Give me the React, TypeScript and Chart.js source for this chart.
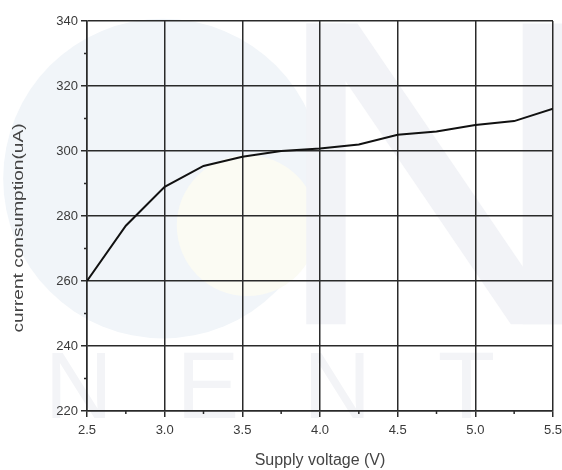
import React, { useEffect, useRef } from "react";
import { Chart, registerables } from "chart.js";

Chart.register(...registerables);

const voltages = [2.5, 2.75, 3.0, 3.25, 3.5, 3.75, 4.0, 4.25, 4.5, 4.75, 5.0, 5.25, 5.5];
const currents = [260, 277, 289, 295.4, 298.2, 300, 300.8, 302, 305, 306, 308, 309.2, 313];

const xTicks = [2.5, 3.0, 3.5, 4.0, 4.5, 5.0, 5.5];
const xMinorTicks = [2.75, 3.25, 3.75, 4.25, 4.75, 5.25];
const yTicks = [220, 240, 260, 280, 300, 320, 340];
const yMinorTicks = [230, 250, 270, 290, 310, 330];

const xTitle = "Supply voltage (V)";
const yTitle = "current consumption(uA)";
const watermarkLetters = ["N", "E", "N", "T"];

const FONT = "'Liberation Sans', Arial, sans-serif";
const AXIS = "#2a2a2a";

const watermarkPlugin = {
  id: "watermark",
  beforeDraw(chart: any) {
    const { ctx, width, height } = chart;
    ctx.save();
    ctx.fillStyle = "#ffffff";
    ctx.fillRect(0, 0, width, height);
    // faint round logo
    ctx.fillStyle = "#f1f5f9";
    ctx.beginPath();
    ctx.arc(width * 0.29, height * 0.38, height * 0.34, 0, Math.PI * 2);
    ctx.fill();
    ctx.fillStyle = "#fbfbf3";
    ctx.beginPath();
    ctx.arc(width * 0.44, height * 0.48, height * 0.15, 0, Math.PI * 2);
    ctx.fill();
    // faint big N
    ctx.fillStyle = "#f2f3f7";
    const l = width * 0.545, r = width * 0.93, t = height * 0.05, b = height * 0.69, sw = width * 0.07;
    ctx.fillRect(l, t, sw, b - t);
    ctx.fillRect(r, t, sw, b - t);
    ctx.beginPath();
    ctx.moveTo(l, t);
    ctx.lineTo(l + sw * 1.3, t);
    ctx.lineTo(r + sw, b);
    ctx.lineTo(r + sw - sw * 1.3, b);
    ctx.closePath();
    ctx.fill();
    // faint letters
    ctx.fillStyle = "#f3f4f7";
    ctx.font = `${Math.round(height * 0.2)}px ${FONT}`;
    ctx.textBaseline = "alphabetic";
    ctx.textAlign = "center";
    watermarkLetters.forEach((c, i) => {
      ctx.fillText(c, width * (0.14 + i * 0.23), height * 0.89);
    });
    ctx.restore();
  },
};

const minorTickPlugin = {
  id: "minorTicks",
  afterDraw(chart: any) {
    const { ctx, scales, chartArea } = chart;
    const xs = scales.x;
    const ys = scales.y;
    ctx.save();
    ctx.strokeStyle = AXIS;
    ctx.lineWidth = 1.5;
    ctx.beginPath();
    for (const v of xMinorTicks) {
      const px = xs.getPixelForValue(v);
      ctx.moveTo(px, ys.bottom);
      ctx.lineTo(px, ys.bottom + 3);
    }
    for (const v of yMinorTicks) {
      const py = ys.getPixelForValue(v);
      ctx.moveTo(xs.left, py);
      ctx.lineTo(xs.left - 3, py);
    }
    ctx.stroke();

    // y title, drawn tall and narrow like the reference
    const cy = (chartArea.top + chartArea.bottom) / 2 + 12;
    ctx.font = `15px ${FONT}`;
    ctx.fillStyle = "#444444";
    ctx.textAlign = "center";
    ctx.textBaseline = "middle";
    const w = ctx.measureText(yTitle).width;
    ctx.translate(19, cy);
    ctx.rotate(-Math.PI / 2);
    ctx.scale(209 / w, 1);
    ctx.fillText(yTitle, 0, 0);
    ctx.restore();
  },
};

export default function App() {
  const ref = useRef<HTMLCanvasElement | null>(null);

  useEffect(() => {
    if (!ref.current) return;
    const chart = new Chart(ref.current, {
      type: "line",
      data: {
        datasets: [
          {
            data: voltages.map((v, i) => ({ x: v, y: currents[i] })),
            borderColor: "#111111",
            borderWidth: 2,
            pointRadius: 0,
            tension: 0,
            fill: false,
          },
        ],
      },
      options: {
        animation: false,
        responsive: false,
        devicePixelRatio: 1,
        layout: { padding: { top: 21, right: 9, left: 0, bottom: 0 } },
        plugins: {
          legend: { display: false },
          tooltip: { enabled: false },
        },
        scales: {
          x: {
            type: "linear",
            min: 2.5,
            max: 5.5,
            afterBuildTicks: (s: any) => {
              s.ticks = xTicks.map((v) => ({ value: v }));
            },
            afterFit: (s: any) => {
              s.height = 59;
              s.paddingRight = 0;
              s.paddingLeft = 0;
            },
            ticks: {
              autoSkip: false,
              maxRotation: 0,
              padding: 6,
              color: "#3a3a3a",
              font: { family: FONT, size: 13 },
              callback: (v: any) => Number(v).toFixed(1),
            },
            grid: {
              color: AXIS,
              lineWidth: 1.5,
              tickLength: 6,
              tickColor: AXIS,
            },
            border: { color: AXIS, width: 1.5 },
            title: {
              display: true,
              text: xTitle,
              color: "#444444",
              font: { family: FONT, size: 16 },
              padding: { top: 0, bottom: 0 },
            },
          },
          y: {
            type: "linear",
            min: 220,
            max: 340,
            afterBuildTicks: (s: any) => {
              s.ticks = yTicks.map((v) => ({ value: v }));
            },
            afterFit: (s: any) => {
              s.width = 87;
              s.paddingTop = 0;
              s.paddingBottom = 0;
            },
            ticks: {
              autoSkip: false,
              padding: 3,
              color: "#3a3a3a",
              font: { family: FONT, size: 13 },
              callback: (v: any) => String(v),
            },
            grid: {
              color: AXIS,
              lineWidth: 1.5,
              tickLength: 6,
              tickColor: AXIS,
            },
            border: { color: AXIS, width: 1.5 },
            title: { display: false, text: yTitle },
          },
        },
      },
      plugins: [watermarkPlugin, minorTickPlugin],
    });
    return () => chart.destroy();
  }, []);

  return (
    <div style={{ position: "absolute", left: 0, top: 0, width: 562, height: 470, background: "#ffffff" }}>
      <canvas ref={ref} width={562} height={470} style={{ display: "block" }} />
    </div>
  );
}
